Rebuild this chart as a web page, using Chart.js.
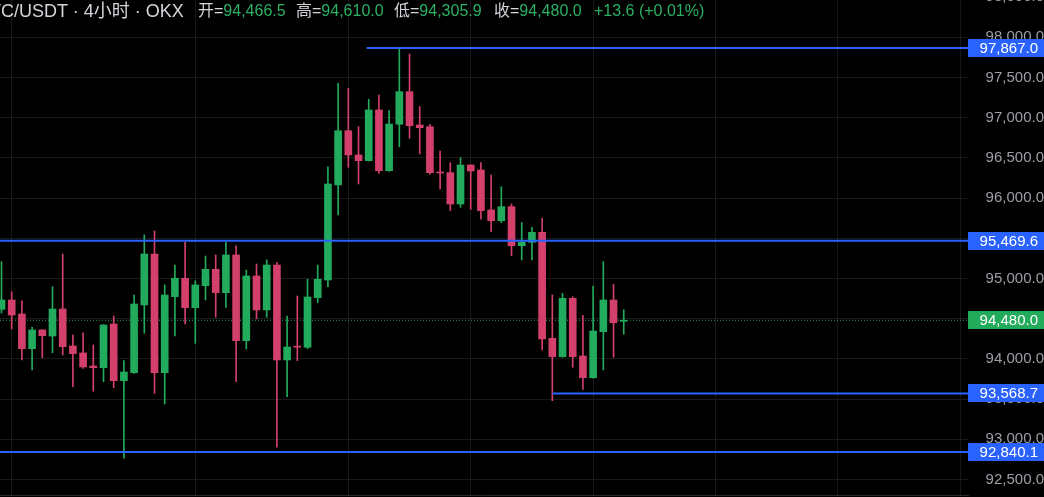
<!DOCTYPE html>
<html>
<head>
<meta charset="utf-8">
<script src="https://cdn.jsdelivr.net/npm/chart.js@4.4.1/dist/chart.umd.min.js"></script>
<style>
  html, body { margin: 0; padding: 0; background: #000; }
  #wrap { position: relative; width: 1044px; height: 497px; overflow: hidden; background: #000; }
  #c { position: absolute; left: 0; top: -16px; }
  #hdr span { position: absolute; top: 0; height: 22px; line-height: 22px; white-space: nowrap;
    font-family: "Liberation Sans", Arial, "Noto Sans CJK SC", sans-serif; }
  .t { font-size: 18px; color: #d3d5da; }
  .g { font-size: 16px; color: #d3d5da; }
  .g b { font-weight: normal; color: #2bb064; }
</style>
</head>
<body>
<div id="wrap">
  <canvas id="c" width="1044" height="530"></canvas>
  <div id="hdr">
    <span class="t" style="left:-22px">BTC/USDT · 4小时 · OKX</span>
    <span class="g" style="left:198px">开=<b>94,466.5</b></span>
    <span class="g" style="left:296px">高=<b>94,610.0</b></span>
    <span class="g" style="left:394px">低=<b>94,305.9</b></span>
    <span class="g" style="left:494px">收=<b>94,480.0</b></span>
    <span class="g" style="left:594px"><b>+13.6 (+0.01%)</b></span>
  </div>
</div>
<script>
// 4h candles, oldest first
const opens = [
  94616, 94732, 94558, 94126, 94359, 94284, 94620, 94160, 94073, 93911,
  93890, 94433, 93728, 93828, 94670, 95304, 93828, 94773, 95002, 94636,
  94910, 95114, 94823, 95292, 94226, 95031, 94608, 95167, 93986, 94156,
  94144, 94761, 94981, 96163, 96838, 96536, 96465, 97096, 96340, 96918,
  97323, 96909, 96888, 96324, 96316, 95926, 96411, 96349, 95852, 95718,
  95893, 95407, 95450, 95574, 94255, 94027, 94753, 94035, 93765, 94338,
  94732, 94466.5
];
const highs = [
  95209, 94835, 94720, 94392, 94365, 94897, 95304, 94297, 94325, 94172,
  94425, 94533, 93977, 94794, 95541, 95590, 94919, 95167, 95450, 94972,
  95279, 95292, 95450, 95407, 95105, 95180, 95230, 95201, 94533, 94782,
  94990, 95167, 96390, 97428, 97366, 96888, 97229, 97282, 97087, 97867,
  97792, 97137, 96918, 96586, 96440, 96502, 96415, 96440, 96287, 96141,
  95926, 95694, 95636, 95748, 94794, 94815, 94773, 94542, 94906, 95209,
  94927, 94610.0
];
const lows = [
  94570, 94371, 93986, 93861, 94014, 94076, 94048, 93653, 93882, 93596,
  93716, 93641, 92763, 93820, 94318, 93571, 93438, 94284, 94433, 94193,
  94732, 94517, 94641, 93716, 94122, 94496, 94517, 92900, 93529, 93977,
  94126, 94698, 94897, 95789, 96383, 96175, 96460, 96308, 96335, 96639,
  96744, 96548, 96296, 96113, 95843, 95885, 95860, 95736, 95582, 95694,
  95283, 95230, 95230, 94110, 93479, 94020, 93895, 93621, 93760, 93861,
  94019, 94305.9
];
const closes = [
  94732, 94545, 94126, 94359, 94288, 94620, 94151, 94064, 93899, 93890,
  94421, 93728, 93836, 94682, 95304, 93828, 94794, 95002, 94636, 94919,
  95114, 94823, 95292, 94226, 95031, 94608, 95167, 93986, 94147, 94145,
  94769, 94990, 96175, 96838, 96536, 96465, 97096, 96340, 96921, 97323,
  96900, 96875, 96316, 96312, 95926, 96411, 96337, 95843, 95718, 95893,
  95407, 95450, 95574, 94247, 94027, 94753, 94027, 93765, 94346, 94732,
  94450, 94480.0
];

// price axis ticks
const yTicks = [92500, 93000, 93500, 94000, 94500, 95000, 95500, 96000, 96500, 97000, 97500, 98000, 98500];

// horizontal levels and the candle they start from (null = from the left edge)
const levels = [97867.0, 95469.6, 93568.7, 92840.1];
const levelStart = [35.8, null, 54, null];
const lastPrice = 94480.0;

// candles that carry a time-axis grid line
const gridCandles = [10, 28, 40, 52, 64, 76, 88];

const X_MIN = -0.147, X_MAX = 94.75;
const UP = '#22ab5c', DOWN = '#d2406b', BLUE = '#2962ff', LAST = '#22ab5a';
const FONT = '"Liberation Sans", Arial, sans-serif';

const fmt = v => v.toLocaleString('en-US', { minimumFractionDigits: 1, maximumFractionDigits: 1 });

const colors = closes.map((c, i) => (c >= opens[i] ? UP : DOWN));
const wicks = lows.map((l, i) => ({ x: i, y: [l, highs[i]] }));
const bodies = opens.map((o, i) => ({ x: i, y: [Math.min(o, closes[i]), Math.max(o, closes[i])] }));

const levelSets = levels.map((v, k) => ({
  type: 'line',
  data: [{ x: levelStart[k] === null ? X_MIN : levelStart[k], y: v }, { x: X_MAX, y: v }],
  borderColor: BLUE,
  borderWidth: 2,
  pointRadius: 0,
  fill: false,
  order: 0
}));

const priceBoxes = {
  id: 'priceBoxes',
  afterDraw(chart) {
    const { ctx, chartArea, scales: { y } } = chart;
    const items = levels.map(v => [v, BLUE]).concat([[lastPrice, LAST]]);
    ctx.save();
    ctx.font = '15px ' + FONT;
    ctx.textAlign = 'right';
    ctx.textBaseline = 'middle';
    items.forEach(([v, c]) => {
      const py = Math.round(y.getPixelForValue(v));
      ctx.fillStyle = c;
      ctx.fillRect(chartArea.right, py - 9, chart.width - chartArea.right, 18);
      ctx.fillStyle = '#ffffff';
      ctx.fillText(fmt(v), chart.width - 6, py + 1);
    });
    ctx.restore();
  }
};

const ctx = document.getElementById('c').getContext('2d');
new Chart(ctx, {
  type: 'bar',
  data: {
    datasets: [
      {
        type: 'line',
        data: [{ x: X_MIN, y: lastPrice }, { x: X_MAX, y: lastPrice }],
        borderColor: LAST,
        borderWidth: 1,
        borderDash: [1, 2],
        pointRadius: 0,
        fill: false,
        order: 3
      },
      {
        data: wicks,
        backgroundColor: colors,
        barThickness: 1,
        grouped: false,
        order: 2
      },
      {
        data: bodies,
        backgroundColor: colors,
        barThickness: 7,
        minBarLength: 1,
        grouped: false,
        order: 1
      },
      ...levelSets
    ]
  },
  options: {
    responsive: false,
    animation: false,
    devicePixelRatio: 1,
    layout: { padding: { bottom: 19 } },
    plugins: { legend: { display: false }, tooltip: { enabled: false } },
    scales: {
      x: {
        type: 'linear',
        min: X_MIN,
        max: X_MAX,
        offset: false,
        ticks: { display: false },
        grid: { color: '#181818', drawTicks: false },
        border: { display: true, color: '#2a2a2a' },
        afterBuildTicks: s => { s.ticks = gridCandles.map(v => ({ value: v })); }
      },
      y: {
        position: 'right',
        min: 92306,
        max: 98663,
        ticks: {
          color: '#9c9fa6',
          padding: 12,
          crossAlign: 'far',
          font: { family: FONT, size: 15 },
          callback: v => fmt(v)
        },
        grid: { color: '#1a1a1a', drawTicks: false },
        border: { display: false },
        afterBuildTicks: s => { s.ticks = yTicks.map(v => ({ value: v })); },
        afterFit: s => { s.width = 76; s.paddingTop = 0; s.paddingBottom = 0; }
      }
    }
  },
  plugins: [priceBoxes]
});
</script>
</body>
</html>
